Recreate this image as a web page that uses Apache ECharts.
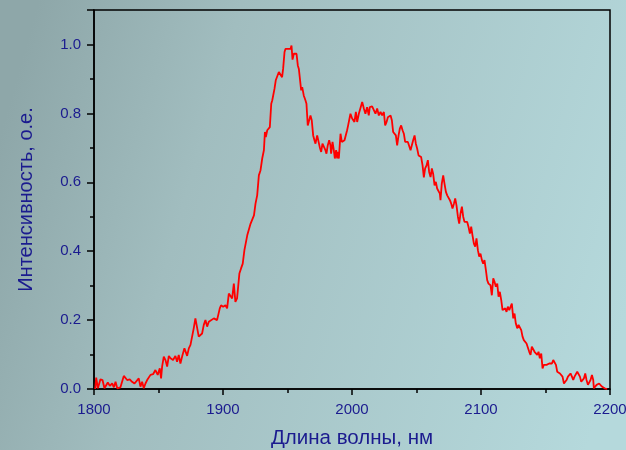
<!DOCTYPE html>
<html>
<head>
<meta charset="utf-8">
<script src="https://cdn.jsdelivr.net/npm/echarts@6/dist/echarts.min.js"></script>
<style>
html,body{margin:0;padding:0;}
#chart{width:626px;height:450px;}
</style>
</head>
<body>
<div id="chart"></div>
<script>
var xTicks = [1800, 1900, 2000, 2100, 2200];
var yTicks = [0.0, 0.2, 0.4, 0.6, 0.8, 1.0];
var xTitle = 'Длина волны, нм';
var yTitle = 'Интенсивность, о.е.';

var wavelength = [
1800.9,1801.7,1803.0,1805.0,1806.6,1808.1,1810.7,1812.3,1814.1,1815.4,1816.7,1818.0,1820.5,
1823.1,1824.4,1825.7,1827.7,1829.5,1831.4,1832.9,1834.7,1836.0,1837.3,1838.6,1839.9,1841.2,
1843.8,1845.8,1847.6,1849.4,1851.0,1852.0,1852.8,1854.1,1855.4,1856.7,1858.0,1859.3,1861.3,
1863.1,1864.4,1865.7,1867.0,1868.3,1870.1,1871.1,1872.2,1873.5,1874.8,1876.1,1877.3,1878.6,
1879.9,1881.2,1882.5,1883.8,1885.1,1886.4,1887.7,1889.0,1890.3,1892.9,1895.4,1896.7,1897.5,
1898.5,1900.1,1901.9,1903.2,1904.5,1905.8,1907.1,1908.4,1909.6,1910.9,1911.5,1912.7,1914.0,
1915.3,1916.6,1918.8,1920.1,1921.4,1922.7,1924.0,1925.2,1926.5,1927.8,1929.1,1930.4,1931.7,
1932.5,1933.2,1934.3,1935.6,1936.3,1937.4,1938.2,1938.9,1939.9,1940.9,1942.0,1943.3,1944.6,
1945.8,1946.6,1947.7,1948.4,1949.7,1950.5,1951.5,1952.3,1953.1,1953.9,1954.9,1956.2,1957.0,
1958.0,1958.8,1959.5,1960.6,1961.4,1962.6,1963.9,1964.7,1965.7,1966.8,1967.8,1968.8,1969.9,
1970.9,1971.7,1973.0,1974.0,1975.0,1976.1,1977.1,1978.1,1979.4,1980.2,1981.2,1982.3,1983.3,
1983.8,1984.9,1985.9,1986.7,1987.7,1988.5,1989.0,1989.8,1991.1,1992.1,1993.1,1994.2,1995.2,
1996.2,1997.0,1997.8,1998.8,2000.1,2001.4,2001.9,2003.0,2004.0,2005.3,2006.6,2007.9,2009.2,
2010.4,2011.7,2013.0,2013.8,2014.4,2015.6,2016.9,2018.2,2019.5,2020.8,2022.1,2023.4,2024.7,
2025.7,2026.8,2027.8,2028.8,2029.9,2030.9,2031.9,2033.0,2034.0,2035.0,2036.1,2037.1,2038.1,
2039.2,2040.2,2041.2,2042.3,2043.3,2044.3,2045.4,2046.4,2047.4,2048.5,2049.5,2050.5,2051.6,
2052.6,2053.6,2054.7,2055.7,2056.7,2057.8,2058.8,2059.8,2060.9,2061.9,2062.9,2064.0,2065.0,
2066.0,2067.1,2068.1,2068.6,2069.6,2070.7,2071.7,2072.8,2073.8,2074.8,2075.9,2076.9,2077.9,
2079.0,2080.0,2081.0,2082.1,2083.1,2084.1,2085.2,2086.2,2087.2,2088.3,2089.3,2090.3,2091.4,
2092.4,2093.4,2094.5,2095.5,2096.5,2097.6,2098.6,2099.6,2100.7,2101.7,2102.7,2103.8,2104.8,
2105.8,2106.4,2107.4,2108.4,2109.5,2110.5,2111.5,2112.6,2113.6,2114.6,2115.7,2116.7,2117.7,
2118.8,2119.8,2120.8,2121.9,2122.9,2123.9,2125.0,2126.0,2127.0,2128.1,2129.1,2130.1,2131.2,
2132.2,2133.2,2134.3,2135.3,2136.3,2137.4,2138.4,2139.4,2140.5,2141.5,2142.5,2143.6,2144.6,
2145.6,2146.7,2147.7,2148.7,2149.8,2150.8,2151.8,2152.9,2153.9,2155.0,2156.0,2157.0,2158.1,
2159.1,2160.1,2161.2,2162.2,2163.2,2164.3,2165.3,2166.3,2167.4,2168.4,2169.4,2170.5,2171.5,
2172.5,2173.6,2174.6,2175.6,2176.7,2177.7,2178.7,2179.8,2180.8,2181.8,2182.9,2183.9,2184.9,
2186.0,2187.0,2187.5,2188.5,2189.6,2190.6,2191.6,2192.7,2193.7,2194.7,2195.8,2196.8,2197.8
];
var intensity = [
0.000,0.033,0.002,0.028,0.026,0.002,0.019,0.009,0.016,0.005,0.021,0.002,0.005,
0.038,0.041,0.026,0.028,0.021,0.016,0.016,0.031,0.007,0.021,0.002,0.016,0.026,
0.041,0.043,0.055,0.041,0.060,0.031,0.065,0.094,0.084,0.065,0.096,0.089,0.084,
0.096,0.079,0.099,0.074,0.094,0.118,0.113,0.096,0.118,0.128,0.132,0.176,0.205,
0.205,0.152,0.147,0.161,0.186,0.200,0.181,0.195,0.200,0.205,0.200,0.200,0.234,
0.243,0.239,0.243,0.234,0.277,0.282,0.263,0.306,0.253,0.263,0.287,0.335,0.350,
0.364,0.403,0.446,0.442,0.480,0.485,0.504,0.538,0.562,0.620,0.635,0.669,0.693,
0.746,0.731,0.751,0.746,0.760,0.828,0.838,0.843,0.871,0.896,0.891,0.920,0.925,
0.905,0.929,0.978,0.987,0.992,0.987,0.992,0.987,0.997,0.956,0.973,0.968,0.973,
0.939,0.929,0.925,0.867,0.876,0.852,0.838,0.828,0.765,0.760,0.794,0.780,0.736,
0.722,0.712,0.736,0.741,0.702,0.688,0.712,0.707,0.693,0.683,0.707,0.722,0.707,
0.683,0.717,0.693,0.669,0.693,0.669,0.688,0.669,0.741,0.717,0.712,0.722,0.722,
0.751,0.765,0.760,0.799,0.785,0.789,0.775,0.804,0.775,0.799,0.794,0.833,0.814,
0.799,0.818,0.794,0.818,0.823,0.820,0.823,0.799,0.814,0.794,0.804,0.794,0.804,
0.765,0.775,0.789,0.794,0.794,0.780,0.746,0.741,0.736,0.707,0.736,0.756,0.765,
0.751,0.741,0.717,0.712,0.717,0.712,0.693,0.698,0.722,0.736,0.712,0.698,0.678,
0.683,0.673,0.649,0.614,0.640,0.649,0.664,0.630,0.615,0.640,0.625,0.591,0.601,
0.582,0.582,0.567,0.548,0.596,0.620,0.596,0.572,0.562,0.557,0.548,0.538,0.524,
0.538,0.553,0.533,0.500,0.480,0.509,0.529,0.500,0.485,0.480,0.485,0.471,0.451,
0.471,0.446,0.422,0.413,0.437,0.403,0.384,0.393,0.374,0.364,0.374,0.345,0.316,
0.306,0.306,0.301,0.272,0.321,0.311,0.297,0.306,0.268,0.282,0.258,0.229,0.229,
0.234,0.224,0.239,0.229,0.224,0.248,0.205,0.219,0.190,0.176,0.186,0.190,0.171,
0.152,0.142,0.142,0.132,0.128,0.108,0.099,0.123,0.128,0.108,0.103,0.099,0.108,
0.089,0.103,0.060,0.070,0.067,0.070,0.065,0.074,0.070,0.074,0.084,0.089,0.070,
0.050,0.055,0.045,0.045,0.036,0.016,0.012,0.026,0.036,0.041,0.045,0.036,0.026,
0.036,0.041,0.050,0.050,0.036,0.021,0.016,0.031,0.045,0.026,0.012,0.016,0.026,
0.041,0.026,0.002,0.002,0.012,0.012,0.016,0.021,0.007,0.012,0.002,0.007,0.000
];

var seriesData = wavelength.map(function (w, i) { return [w, intensity[i]]; });
var labelColor = '#1b1b8f';
var font = 'Liberation Sans, Arial, sans-serif';
var chart = echarts.init(document.getElementById('chart'));
chart.setOption({
  animation: false,
  backgroundColor: new echarts.graphic.LinearGradient(0, 0.3, 1, 0.7, [
    { offset: 0, color: '#8ea7a9' },
    { offset: 0.3, color: '#a1bdbf' },
    { offset: 1, color: '#b5d9dc' }
  ]),
  grid: { left: 94, right: 16, top: 10, bottom: 61, show: true, borderColor: '#000', borderWidth: 1.5,
    backgroundColor: 'transparent', containLabel: false, outerBoundsMode: 'none' },
  xAxis: {
    type: 'value', min: xTicks[0], max: xTicks[xTicks.length - 1], interval: 100,
    name: xTitle, nameLocation: 'middle', nameGap: 39,
    nameTextStyle: { color: labelColor, fontSize: 20.5, fontFamily: font },
    axisLine: { lineStyle: { color: '#000', width: 1.5 } },
    axisTick: { show: true, inside: false, length: 6, lineStyle: { color: '#000', width: 1.5 } },
    minorTick: { show: true, splitNumber: 2, length: 4, lineStyle: { color: '#000', width: 1.5 } },
    axisLabel: { color: labelColor, fontSize: 15, margin: 13, fontFamily: font,
      formatter: function (v) { return String(v); } },
    splitLine: { show: false }
  },
  yAxis: {
    type: 'value', min: 0, max: 1.1, interval: 0.2,
    name: yTitle, nameLocation: 'middle', nameGap: 58, nameRotate: 90,
    nameTextStyle: { color: labelColor, fontSize: 20, fontFamily: font },
    axisLine: { show: true, lineStyle: { color: '#000', width: 1.5 } },
    axisTick: { show: true, inside: false, length: 7, lineStyle: { color: '#000', width: 1.5 } },
    minorTick: { show: true, splitNumber: 2, length: 4, lineStyle: { color: '#000', width: 1.5 } },
    axisLabel: { color: labelColor, fontSize: 15, margin: 13, fontFamily: font, showMaxLabel: false,
      formatter: function (v) { return yTicks.some(function (t) { return Math.abs(t - v) < 1e-6; }) ? v.toFixed(1) : ''; } },
    splitLine: { show: false }
  },
  series: [{
    type: 'line', data: seriesData, showSymbol: false, symbol: 'none',
    lineStyle: { color: '#ff0000', width: 1.8 }, clip: true
  }]
});
</script>
</body>
</html>
